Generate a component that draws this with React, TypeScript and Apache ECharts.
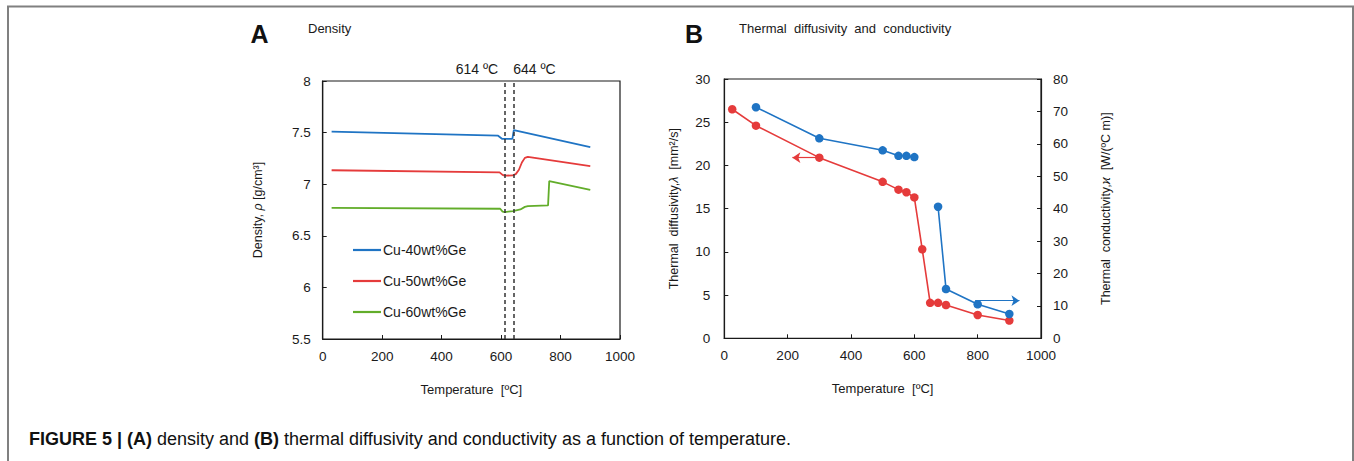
import React, { useEffect, useRef } from 'react';
import * as echarts from 'echarts';

const FONT = 'Liberation Sans, Arial, Helvetica, sans-serif';
const BLUE = '#1f74c4';
const RED = '#e53b3b';
const GREEN = '#62ad2a';
const INK = '#1a1a1a';

// ---- Panel A: density (temperature °C, density g/cm3) ----
const seriesNamesA = ['Cu-40wt%Ge', 'Cu-50wt%Ge', 'Cu-60wt%Ge'];
const cu40Temp = [30, 590, 603, 638, 643, 900];
const cu40Density = [7.51, 7.47, 7.44, 7.44, 7.525, 7.36];
const cu50Temp = [30, 595, 605, 612, 640, 650, 660, 670, 680, 690, 900];
const cu50Density = [7.135, 7.115, 7.09, 7.083, 7.085, 7.1, 7.14, 7.21, 7.255, 7.265, 7.175];
const cu60Temp = [30, 597, 605, 612, 640, 665, 680, 690, 758, 762, 900];
const cu60Density = [6.77, 6.762, 6.735, 6.73, 6.74, 6.755, 6.78, 6.787, 6.795, 7.03, 6.944];
const transitionTemps = [614, 644];
const transitionLabels = ['614 ºC', '644 ºC'];

// ---- Panel B: thermal diffusivity & conductivity ----
const diffTemp = [25, 100, 300, 500, 550, 575, 600, 625, 650, 675, 700, 800, 900];
const diffusivity = [26.5, 24.6, 20.9, 18.1, 17.2, 16.9, 16.3, 10.3, 4.1, 4.1, 3.85, 2.7, 2.05];
const condSolidTemp = [100, 300, 500, 550, 575, 600];
const condSolid = [71.3, 61.7, 58.0, 56.3, 56.3, 55.9];
const condLiquidTemp = [675, 700, 800, 900];
const condLiquid = [40.6, 15.2, 10.5, 7.5];
const diffArrow = [[300, 20.9], [215, 20.9]];
const condArrow = [[792, 11.6], [932, 11.6]];

const zip = (xs: number[], ys: number[]) => xs.map((x, i) => [x, ys[i]]);

const axisText = { color: INK, fontSize: 13.5, fontFamily: FONT };
const nameText = { color: INK, fontSize: 13, fontFamily: FONT };

export default function App() {
  const ref = useRef<HTMLDivElement>(null);
  useEffect(() => {
    if (!ref.current) return;
    const chart = echarts.init(ref.current, null, { renderer: 'svg' });
    const xAxisBase = (gridIndex: number) => ({
      gridIndex,
      type: 'value',
      min: 0,
      max: 1000,
      interval: 200,
      axisLine: { show: true, lineStyle: { color: INK, width: 1.2 } },
      axisTick: { show: true, inside: true, length: 4, lineStyle: { color: INK } },
      axisLabel: { ...axisText, margin: 10, formatter: (v: number) => String(v) },
      splitLine: { show: false },
      name: 'Temperature  [ºC]',
      nameLocation: 'middle',
      nameGap: 44,
      nameTextStyle: { ...nameText },
    });
    const yBase = {
      type: 'value',
      axisLine: { show: true, lineStyle: { color: INK, width: 1.2 } },
      axisTick: { show: true, inside: true, length: 4, lineStyle: { color: INK } },
      splitLine: { show: false },
      nameLocation: 'middle',
    };
    const richName = {
      n: { ...nameText, fontSize: 12.5 },
      i: { ...nameText, fontSize: 12.5, fontStyle: 'italic' },
    };
    const option: any = {
      animation: false,
      grid: [
        { left: 322.7, top: 81, width: 297.3, height: 258, show: true, borderColor: INK, borderWidth: 1.2 },
        { left: 724.3, top: 79, width: 316.7, height: 259.3, show: true, borderColor: INK, borderWidth: 1.2 },
      ],
      xAxis: [xAxisBase(0), xAxisBase(1)],
      yAxis: [
        {
          ...yBase,
          gridIndex: 0,
          min: 5.5,
          max: 8,
          interval: 0.5,
          axisLabel: { ...axisText, margin: 12 },
          name: '{n|Density, }{i|ρ}{n| [g/cm³]}',
          nameGap: 58,
          nameTextStyle: { rich: richName },
        },
        {
          ...yBase,
          gridIndex: 1,
          min: 0,
          max: 30,
          interval: 5,
          axisLabel: { ...axisText, margin: 14 },
          name: '{n|Thermal  diffusivity,}{i|λ}{n|  [mm²/s]}',
          nameGap: 44,
          nameTextStyle: { rich: richName },
        },
        {
          ...yBase,
          gridIndex: 1,
          position: 'right',
          min: 0,
          max: 80,
          interval: 10,
          axisLabel: { ...axisText, margin: 12 },
          name: '{n|Thermal  conductivity,}{i|ϰ}{n|  [W/(ºC m)]}',
          nameGap: 58,
          nameRotate: 90,
          nameTextStyle: { rich: richName },
        },
      ],
      legend: {
        data: seriesNamesA.map((name) => ({ name, icon: 'rect' })),
        orient: 'vertical',
        left: 353,
        top: 243,
        padding: 0,
        itemWidth: 28,
        itemHeight: 2.2,
        itemGap: 17,
        textStyle: { ...axisText, fontSize: 14, lineHeight: 14, padding: [0, 0, 0, -3] },
      },
      series: [
        {
          name: seriesNamesA[0],
          type: 'line',
          xAxisIndex: 0,
          yAxisIndex: 0,
          data: zip(cu40Temp, cu40Density),
          symbol: 'none',
          lineStyle: { color: BLUE, width: 1.8 },
          itemStyle: { color: BLUE },
          markLine: {
            silent: true,
            symbol: ['none', 'none'],
            lineStyle: { type: [4, 3], color: '#333', width: 1.5 },
            label: { show: false },
            data: transitionTemps.map((t) => ({ xAxis: t })),
          },
        },
        {
          name: seriesNamesA[1],
          type: 'line',
          xAxisIndex: 0,
          yAxisIndex: 0,
          data: zip(cu50Temp, cu50Density),
          symbol: 'none',
          lineStyle: { color: RED, width: 1.8 },
          itemStyle: { color: RED },
        },
        {
          name: seriesNamesA[2],
          type: 'line',
          xAxisIndex: 0,
          yAxisIndex: 0,
          data: zip(cu60Temp, cu60Density),
          symbol: 'none',
          lineStyle: { color: GREEN, width: 1.8 },
          itemStyle: { color: GREEN },
        },
        {
          name: 'Thermal diffusivity',
          type: 'line',
          xAxisIndex: 1,
          yAxisIndex: 1,
          data: zip(diffTemp, diffusivity),
          symbol: 'circle',
          symbolSize: 8.5,
          lineStyle: { color: RED, width: 1.6 },
          itemStyle: { color: RED },
          markLine: {
            silent: true,
            symbol: ['none', 'arrow'],
            symbolSize: 8,
            lineStyle: { type: 'solid', color: RED, width: 1.2 },
            label: { show: false },
            data: [[{ coord: diffArrow[0] }, { coord: diffArrow[1] }]],
          },
        },
        {
          name: 'Thermal conductivity (solid)',
          type: 'line',
          xAxisIndex: 1,
          yAxisIndex: 2,
          data: zip(condSolidTemp, condSolid),
          symbol: 'circle',
          symbolSize: 8.5,
          lineStyle: { color: BLUE, width: 1.6 },
          itemStyle: { color: BLUE },
        },
        {
          name: 'Thermal conductivity (liquid)',
          type: 'line',
          xAxisIndex: 1,
          yAxisIndex: 2,
          data: zip(condLiquidTemp, condLiquid),
          symbol: 'circle',
          symbolSize: 8.5,
          lineStyle: { color: BLUE, width: 1.6 },
          itemStyle: { color: BLUE },
          markLine: {
            silent: true,
            symbol: ['none', 'arrow'],
            symbolSize: 8,
            lineStyle: { type: 'solid', color: BLUE, width: 1.2 },
            label: { show: false },
            data: [[{ coord: condArrow[0] }, { coord: condArrow[1] }]],
          },
        },
      ],
    };
    chart.setOption(option);

    const topY = chart.convertToPixel({ yAxisIndex: 0 }, 8) as number;
    const x614 = chart.convertToPixel({ xAxisIndex: 0 }, transitionTemps[0]) as number;
    const x644 = chart.convertToPixel({ xAxisIndex: 0 }, transitionTemps[1]) as number;

    chart.setOption({
      graphic: [
        {
          type: 'rect',
          shape: { x: 8, y: 6.5, width: 1345, height: 600 },
          style: { fill: 'none', stroke: '#808080', lineWidth: 2 },
        },
        {
          type: 'text',
          style: { x: 259.5, y: 34, text: 'A', font: `bold 25px ${FONT}`, fill: '#111', align: 'center', verticalAlign: 'middle' },
        },
        {
          type: 'text',
          style: { x: 308, y: 28.5, text: 'Density', font: `13px ${FONT}`, fill: INK, verticalAlign: 'middle' },
        },
        {
          type: 'text',
          style: { x: 694, y: 34, text: 'B', font: `bold 25px ${FONT}`, fill: '#111', align: 'center', verticalAlign: 'middle' },
        },
        {
          type: 'text',
          style: { x: 739, y: 28.5, text: 'Thermal  diffusivity  and  conductivity', font: `13px ${FONT}`, fill: INK, verticalAlign: 'middle' },
        },
        {
          type: 'text',
          style: { x: x614 - 7, y: topY - 12, text: transitionLabels[0], font: `14px ${FONT}`, fill: INK, align: 'right', verticalAlign: 'middle' },
        },
        {
          type: 'text',
          style: { x: x644 - 1, y: topY - 12, text: transitionLabels[1], font: `14px ${FONT}`, fill: INK, align: 'left', verticalAlign: 'middle' },
        },
        {
          type: 'text',
          x: 29,
          y: 438.5,
          style: {
            x: 0,
            y: 0,
            text: '{b|FIGURE 5 | (A)}{n| density and }{b|(B)}{n| thermal diffusivity and conductivity as a function of temperature.}',
            verticalAlign: 'middle',
            rich: {
              b: { font: `bold 18px ${FONT}`, fill: '#111' },
              n: { font: `18px ${FONT}`, fill: '#111' },
            },
          },
        },
      ],
    });

    return () => chart.dispose();
  }, []);
  return (
    <div
      ref={ref}
      style={{ position: 'absolute', left: 0, top: 0, width: 1354, height: 461, background: '#fff' }}
    />
  );
}
